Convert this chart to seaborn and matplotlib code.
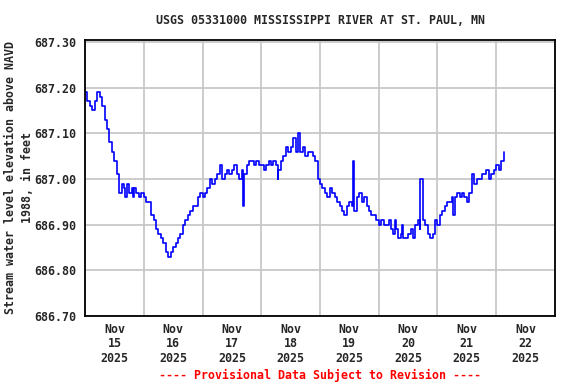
import pandas as pd
import numpy as np
import matplotlib
matplotlib.use("Agg")
import matplotlib.pyplot as plt
import seaborn as sns

# hourly gage height readings starting 2025-11-15 00:00 (ft, NAVD 1988)
nov15 = [687.19, 687.17, 687.16, 687.15, 687.17, 687.19, 687.18, 687.16,
         687.13, 687.11, 687.08, 687.06, 687.04, 687.01, 686.97, 686.99,
         686.98, 686.99, 686.97, 686.98, 686.98, 686.97, 686.96, 686.97]
nov16 = [686.96, 686.95, 686.95, 686.92, 686.91, 686.89, 686.88, 686.87,
         686.86, 686.84, 686.83, 686.84, 686.85, 686.86, 686.87, 686.88,
         686.90, 686.91, 686.92, 686.93, 686.94, 686.94, 686.96, 686.97]
nov17 = [686.96, 686.97, 686.98, 687.00, 686.99, 687.00, 687.01, 687.03,
         687.00, 687.01, 687.02, 687.01, 687.02, 687.03, 687.01, 687.00,
         687.02, 687.01, 687.03, 687.04, 687.04, 687.03, 687.04, 687.03]
nov18 = [687.03, 687.02, 687.03, 687.04, 687.03, 687.04, 687.03, 687.02,
         687.04, 687.05, 687.07, 687.06, 687.07, 687.09, 687.06, 687.08,
         687.06, 687.07, 687.05, 687.06, 687.06, 687.05, 687.04, 687.00]
nov19 = [686.99, 686.98, 686.97, 686.96, 686.98, 686.97, 686.96, 686.95,
         686.94, 686.93, 686.92, 686.94, 686.95, 686.94, 686.93, 686.96,
         686.97, 686.95, 686.96, 686.94, 686.93, 686.92, 686.92, 686.91]
nov20 = [686.90, 686.91, 686.90, 686.90, 686.91, 686.89, 686.88, 686.89,
         686.87, 686.88, 686.87, 686.87, 686.88, 686.89, 686.87, 686.90,
         686.91, 686.89, 686.91, 686.90, 686.88, 686.87, 686.88, 686.91]
nov21 = [686.90, 686.92, 686.93, 686.94, 686.95, 686.95, 686.96, 686.96,
         686.97, 686.96, 686.97, 686.96, 686.95, 686.97, 686.98, 686.99,
         687.00, 687.00, 687.01, 687.01, 687.02, 687.00, 687.01, 687.02]
nov22 = [687.03, 687.02, 687.04, 687.06]

# short single readings (hours after Nov 15 00:00)
spike_hours = [16.5, 19.5, 34.5, 64.5, 78.9, 85.3, 87.1, 109.5, 126.8, 129.5, 137.0, 150.3, 158.0]
spike_values = [686.96, 686.96, 686.83, 686.94, 687.00, 687.09, 687.10, 687.04, 686.91, 686.90, 687.00, 686.92, 687.01]

levels = nov15 + nov16 + nov17 + nov18 + nov19 + nov20 + nov21 + nov22
hours = list(np.arange(len(levels), dtype=float))

start = pd.Timestamp("2025-11-15")
df = pd.DataFrame({"hour": hours + spike_hours, "level": levels + spike_values})
df = df.sort_values("hour").reset_index(drop=True)
df["time"] = start + pd.to_timedelta(df["hour"], unit="h")

sns.set_style("white")
plt.rcParams["font.family"] = ["DejaVu Sans Mono"]
plt.rcParams["font.weight"] = "bold"

fig = plt.figure(figsize=(5.76, 3.84), dpi=100)
ax = fig.add_axes([0.1476, 0.177, 0.8159, 0.720])

sns.lineplot(data=df, x="time", y="level", color="#0000ff", linewidth=1.2,
             drawstyle="steps-post", ax=ax, estimator=None)

days = pd.date_range("2025-11-15", "2025-11-23", freq="D")
ax.set_xlim(days[0], days[-1])
ax.set_ylim(686.70, 687.305)

ax.set_xticks(days)
ax.set_xticklabels([])
ax.set_xticks(days[:-1] + pd.Timedelta(hours=12), minor=True)
ax.set_xticklabels([d.strftime("%b\n%d\n%Y") for d in days[:-1]], minor=True,
                   fontsize=8.4, fontweight="bold", linespacing=1.15)
ax.set_yticks(np.round(np.arange(686.70, 687.31, 0.10), 2))
ax.set_yticklabels([f"{v:.2f}" for v in np.arange(686.70, 687.31, 0.10)],
                   fontsize=8.4, fontweight="bold")
ax.tick_params(axis="both", which="both", length=0, pad=6)
ax.tick_params(axis="x", which="minor", pad=5)

ax.grid(True, which="major", color="#c8c8c8", linewidth=1.3)
ax.set_axisbelow(True)
for s in ax.spines.values():
    s.set_color("black")
    s.set_linewidth(1.3)

ax.set_xlabel("")
ax.set_ylabel("Stream water level elevation above NAVD\n1988, in feet",
              fontsize=8.4, fontweight="bold", linespacing=1.45)
ax.yaxis.set_label_coords(-0.108, 0.5)

fig.text(0.5556, 0.946, "USGS 05331000 MISSISSIPPI RIVER AT ST. PAUL, MN",
         ha="center", va="center", fontsize=8.4, fontweight="bold")
fig.text(0.5556, 0.023, "---- Provisional Data Subject to Revision ----",
         ha="center", va="center", fontsize=8.4, fontweight="bold", color="red")

fig.savefig("out.png", dpi=100)
